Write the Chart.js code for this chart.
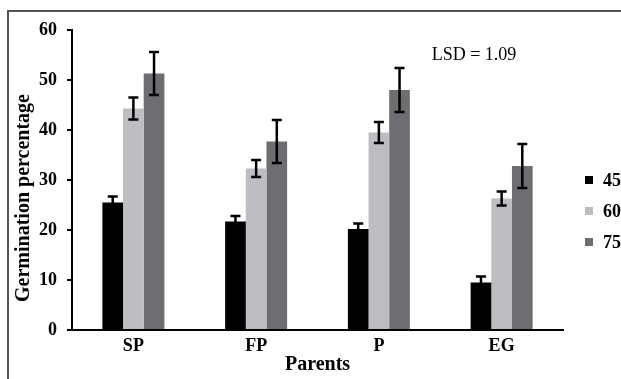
<!DOCTYPE html>
<html>
<head>
<meta charset="utf-8">
<script src="https://cdn.jsdelivr.net/npm/chart.js@4.4.1/dist/chart.umd.min.js"></script>
<style>
  html, body { margin: 0; padding: 0; background: #fff; }
  #wrap { width: 621px; height: 379px; position: relative; }
</style>
</head>
<body>
<div id="wrap"><canvas id="chart" width="621" height="379"></canvas></div>
<script>
// data
const categories = ['SP', 'FP', 'P', 'EG'];
const seriesNames = ['45', '60', '75'];
const values45 = [25.5, 21.7, 20.2, 9.5];
const values60 = [44.3, 32.3, 39.5, 26.3];
const values75 = [51.3, 37.7, 48.0, 32.8];
const errors45 = [1.2, 1.1, 1.1, 1.2];
const errors60 = [2.2, 1.7, 2.1, 1.4];
const errors75 = [4.3, 4.3, 4.4, 4.4];
const yTicks = [0, 10, 20, 30, 40, 50, 60];
const lsdText = 'LSD = 1.09';

const colors = ['#000000', '#bdbec2', '#6d6e71'];
const serif = '"Liberation Serif", "Times New Roman", serif';

// error bars on top of each bar
const errorBars = {
    id: 'errorBars',
    afterDatasetsDraw(chart) {
        const ctx = chart.ctx;
        const y = chart.scales.y;
        ctx.save();
        ctx.strokeStyle = '#000';
        ctx.lineWidth = 2.5;
        chart.data.datasets.forEach((ds, i) => {
            const meta = chart.getDatasetMeta(i);
            meta.data.forEach((bar, j) => {
                const v = ds.data[j], e = ds.errors[j];
                const top = y.getPixelForValue(v + e);
                const bot = y.getPixelForValue(v - e);
                ctx.beginPath();
                ctx.moveTo(bar.x, top); ctx.lineTo(bar.x, bot);
                ctx.moveTo(bar.x - 5, top); ctx.lineTo(bar.x + 5, top);
                ctx.moveTo(bar.x - 5, bot); ctx.lineTo(bar.x + 5, bot);
                ctx.stroke();
            });
        });
        ctx.restore();
    }
};

// frame, y title, LSD note and legend
const decorations = {
    id: 'decorations',
    afterDraw(chart) {
        const ctx = chart.ctx;
        ctx.save();
        ctx.strokeStyle = '#555';
        ctx.lineWidth = 2;
        ctx.beginPath();
        ctx.moveTo(8, 379); ctx.lineTo(8, 11); ctx.lineTo(621, 11);
        ctx.stroke();

        ctx.fillStyle = '#000';
        ctx.font = 'bold 20px ' + serif;
        ctx.textAlign = 'center';
        ctx.textBaseline = 'middle';
        ctx.translate(24, 198);
        ctx.rotate(-Math.PI / 2);
        ctx.fillText('Germination percentage', 0, 0);
        ctx.setTransform(1, 0, 0, 1, 0, 0);

        ctx.font = '18px ' + serif;
        ctx.fillText(lsdText, 474, 55);

        const legendY = [180, 211, 242];
        ctx.font = 'bold 18px ' + serif;
        ctx.textAlign = 'left';
        chart.data.datasets.forEach((ds, i) => {
            ctx.fillStyle = ds.backgroundColor;
            ctx.fillRect(585, legendY[i] - 4, 8, 8);
            ctx.fillStyle = '#000';
            ctx.fillText(ds.label, 603, legendY[i] + 1);
        });
        ctx.restore();
    }
};

const seriesValues = [values45, values60, values75];
const seriesErrors = [errors45, errors60, errors75];

new Chart(document.getElementById('chart').getContext('2d'), {
    type: 'bar',
    data: {
        labels: categories,
        datasets: seriesNames.map((name, i) => ({
            label: name,
            data: seriesValues[i],
            errors: seriesErrors[i],
            backgroundColor: colors[i],
            borderWidth: 0,
            categoryPercentage: 0.505,
            barPercentage: 1.0
        }))
    },
    options: {
        responsive: false,
        animation: false,
        events: [],
        layout: { padding: { left: 8, right: 58, top: 30, bottom: 0 } },
        plugins: {
            legend: { display: false },
            tooltip: { enabled: false }
        },
        scales: {
            x: {
                grid: { display: false, drawTicks: false },
                border: { display: true, color: '#000', width: 2 },
                ticks: { color: '#000', padding: 6, font: { family: serif, size: 18, weight: 'bold' } },
                title: { display: true, text: 'Parents', color: '#000', padding: { top: 0, bottom: 2 },
                         font: { family: serif, size: 20, weight: 'bold' } },
                afterFit(s) { s.height = 49; }
            },
            y: {
                min: 0,
                max: 60,
                afterBuildTicks(s) { s.ticks = yTicks.map(v => ({ value: v })); },
                grid: { display: true, drawOnChartArea: false, drawTicks: true, tickLength: 5, color: '#000', lineWidth: 2 },
                border: { display: true, color: '#000', width: 2 },
                ticks: { color: '#000', padding: 10, font: { family: serif, size: 18, weight: 'bold' } },
                afterFit(s) { s.width = 64; }
            }
        }
    },
    plugins: [errorBars, decorations]
});
</script>
</body>
</html>
